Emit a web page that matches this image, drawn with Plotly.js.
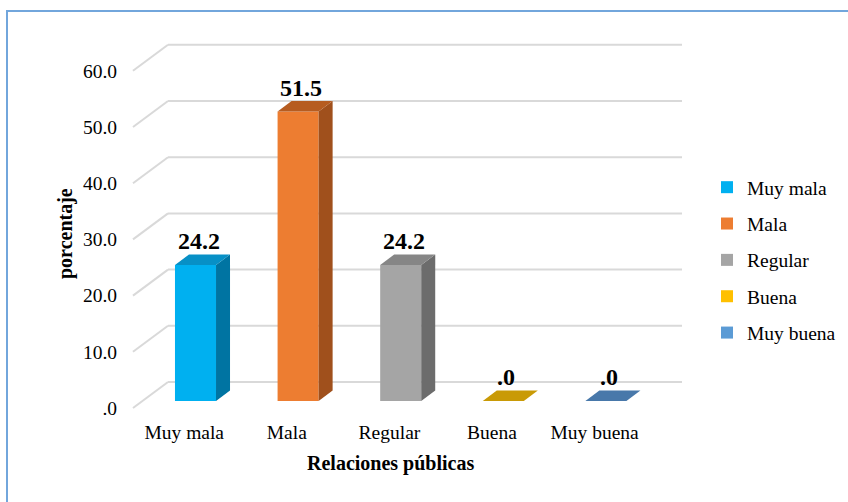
<!DOCTYPE html>
<html><head><meta charset="utf-8">
<script src="https://cdn.plot.ly/plotly-3.0.1.min.js"></script>
<style>
html,body{margin:0;padding:0;background:#fff;}
#chart{position:absolute;left:0;top:0;width:848px;height:502px;}
#frame{position:absolute;left:6px;top:10px;width:900px;height:600px;border-left:2px solid #72A6DC;border-top:2px solid #72A6DC;z-index:5;pointer-events:none;}
</style></head><body>
<div id="chart"></div>
<div id="frame"></div>
<script>
const categories = ['Muy mala', 'Mala', 'Regular', 'Buena', 'Muy buena'];
const values = [24.2, 51.5, 24.2, 0.0, 0.0];
const yTicks = [0, 10, 20, 30, 40, 50, 60];
const yTickLabels = ['.0', '10.0', '20.0', '30.0', '40.0', '50.0', '60.0'];
const frontColors = ['#00B0F0', '#ED7D31', '#A5A5A5', '#FFC000', '#5B9BD5'];
const sideColors = ['#0074A2', '#A0501C', '#6C6C6C', '#B08400', '#3F6E9C'];
const topColors = ['#0790C6', '#B65C20', '#868686', '#C99A06', '#4878AA'];

// geometry (styling only)
const L = 118, R = 720, T = 30, B = 418;
const pxPerCat = 102.6, x0px = 195.5, pxPerVal = 5.62, y0px = 401;
const xr = [(L - x0px) / pxPerCat, (R - x0px) / pxPerCat];
const yr = [(y0px - B) / pxPerVal, (y0px - T) / pxPerVal];
const barW = 0.4, bdx = 14 / pxPerCat, bdy = 10.5 / pxPerVal;
const frontOff = -7 / pxPerVal;            // front edge of floor relative to bar base
const wdx = 35 / pxPerCat, wdy = 26 / pxPerVal;
const wallX0 = (133 - x0px) / pxPerCat, wallX1 = (682 - x0px) / pxPerCat;
const catIdx = categories.map((c, i) => i);
const serif = 'Liberation Serif, Times New Roman, serif';

const traces = categories.map((c, i) => ({
  type: 'bar', name: c, x: [i], y: [values[i]], width: barW,
  marker: {color: frontColors[i], line: {width: 0}},
  legendgroup: 'g' + i, hoverinfo: 'skip'
}));

const shapes = [];
yTicks.forEach(t => {
  const yf = t + frontOff;
  shapes.push({type: 'line', layer: 'below', x0: wallX0, y0: yf, x1: wallX0 + wdx, y1: yf + wdy,
    line: {color: '#D9D9D9', width: 2}});
  shapes.push({type: 'line', layer: 'below', x0: wallX0 + wdx, y0: yf + wdy, x1: wallX1, y1: yf + wdy,
    line: {color: '#D9D9D9', width: 2}});
});
values.forEach((v, i) => {
  const xl = i - barW / 2, xrr = i + barW / 2;
  if (v > 0) {
    shapes.push({type: 'path', layer: 'above',
      path: `M${xrr},0 L${xrr + bdx},${bdy} L${xrr + bdx},${v + bdy} L${xrr},${v} Z`,
      fillcolor: sideColors[i], line: {width: 0}});
  }
  shapes.push({type: 'path', layer: 'above',
    path: `M${xl},${v} L${xl + bdx},${v + bdy} L${xrr + bdx},${v + bdy} L${xrr},${v} Z`,
    fillcolor: topColors[i], line: {width: 0}});
});

const fmt = v => v.toFixed(1).replace(/^0\./, '.');
const annotations = values.map((v, i) => ({
  x: i, y: v, xref: 'x', yref: 'y', text: '<b>' + fmt(v) + '</b>', showarrow: false,
  yanchor: 'middle', yshift: 24, xshift: 3,
  font: {family: serif, size: 24, color: '#000'}
}));
annotations.push({
  xref: 'paper', yref: 'paper', x: (390 - L) / (R - L), y: (B - 463) / (B - T),
  text: '<b>Relaciones públicas</b>', showarrow: false, xanchor: 'center', yanchor: 'middle',
  font: {family: serif, size: 20, color: '#000'}
});
annotations.push({
  xref: 'paper', yref: 'paper', x: (65 - L) / (R - L), y: (B - 234) / (B - T),
  text: '<b>porcentaje</b>', textangle: -90, showarrow: false, xanchor: 'center', yanchor: 'middle',
  font: {family: serif, size: 20, color: '#000'}
});

const layout = {
  width: 848, height: 502,
  margin: {l: L, r: 848 - R, t: T, b: 502 - B, pad: 0, autoexpand: false},
  paper_bgcolor: '#fff', plot_bgcolor: 'rgba(0,0,0,0)',
  barmode: 'overlay', showlegend: true,
  font: {family: serif, size: 19.5, color: '#000'},
  xaxis: {range: xr, showgrid: false, zeroline: false, showline: false, ticks: '',
    tickvals: catIdx.map(i => i - 0.11), ticktext: categories,
    tickfont: {family: serif, size: 19.5, color: '#000'}, fixedrange: true, automargin: false},
  yaxis: {range: yr, showgrid: false, zeroline: false, showline: false, ticks: '',
    tickvals: yTicks.map(t => t + frontOff), ticktext: yTickLabels,
    tickfont: {family: serif, size: 19.5, color: '#000'}, fixedrange: true, automargin: false},
  legend: {x: (707 - L) / (R - L), xanchor: 'left', y: (B - 168) / (B - T), yanchor: 'top',
    traceorder: 'grouped', tracegroupgap: 8, bgcolor: 'rgba(0,0,0,0)',
    font: {family: serif, size: 19.5, color: '#000'}},
  shapes: shapes, annotations: annotations
};
Plotly.newPlot('chart', traces, layout, {displayModeBar: false, staticPlot: true});
</script>
</body></html>
